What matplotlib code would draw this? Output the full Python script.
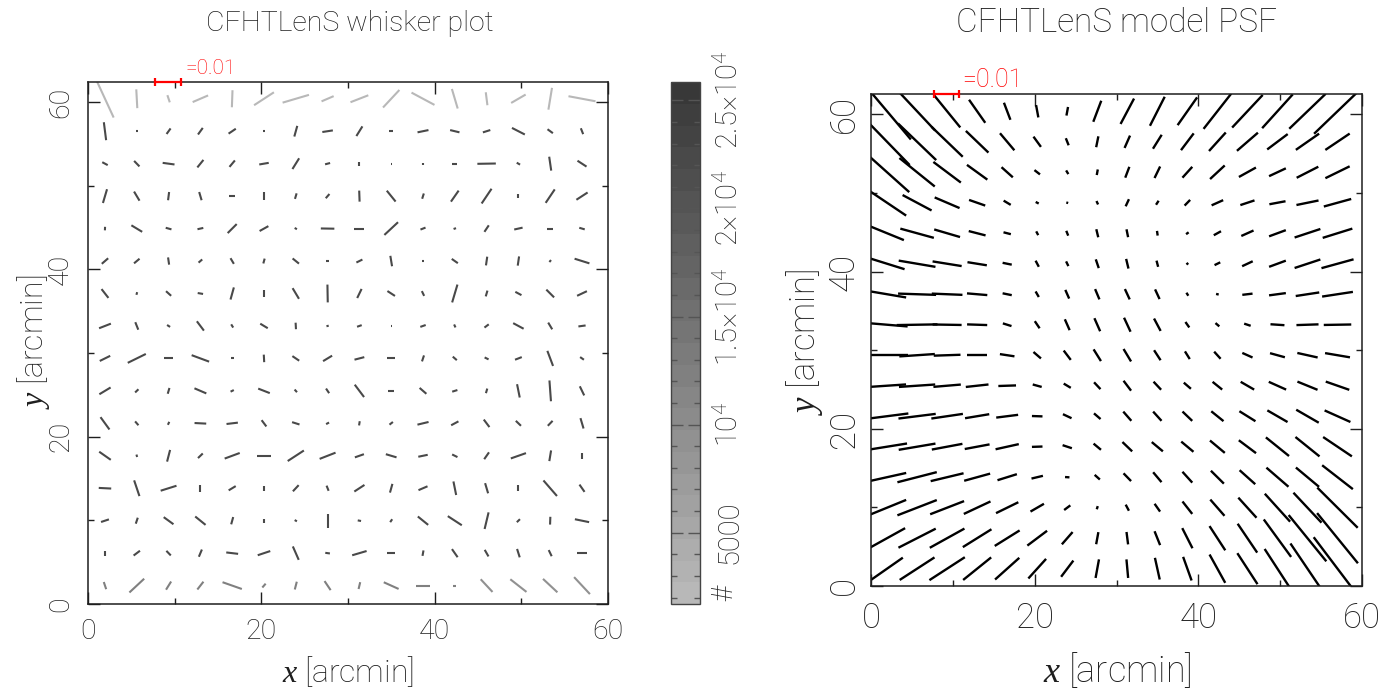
import numpy as np
import matplotlib.pyplot as plt
from matplotlib.collections import LineCollection
from matplotlib.colors import LinearSegmentedColormap, Normalize
from matplotlib.cm import ScalarMappable
from matplotlib.ticker import MultipleLocator, FixedLocator

plt.rcParams['font.family'] = ['Roboto', 'DejaVu Sans']
plt.rcParams['font.weight'] = 'light'
plt.rcParams['mathtext.fontset'] = 'custom'
plt.rcParams['mathtext.rm'] = 'Roboto:light'
plt.rcParams['mathtext.it'] = 'Liberation Serif:italic'

# centres of the 16x16 averaging cells [arcmin]
x_cells = np.linspace(1.96, 57.0, 16)
y_cells = np.linspace(2.2, 60.4, 16)

# star ellipticity per cell: |e| in units of 1e-3 and position angle [deg]
# rows go from the top of the field (y ~ 60) down to the bottom (y ~ 2)
star_e = [
    [16.4, 7.5, 3.0, 6.5, 6.8, 9.2, 10.6, 5.1, 7.4, 9.4, 10.1, 8.1, 5.2, 6.5, 8.8, 10.6],
    [7.2, 0.6, 2.7, 3.2, 3.4, 0.6, 4.4, 4.1, 4.5, 1.7, 4.3, 3.7, 3.0, 5.6, 2.6, 2.5],
    [2.4, 3.0, 4.6, 3.8, 3.3, 3.7, 5.0, 2.0, 1.6, 0.5, 0.9, 1.9, 7.1, 1.5, 5.6, 4.2],
    [5.7, 4.2, 3.3, 3.4, 2.2, 3.4, 2.3, 2.2, 4.4, 5.5, 2.2, 5.3, 7.0, 1.5, 6.4, 5.2],
    [1.4, 4.9, 2.3, 2.3, 5.0, 3.9, 1.0, 5.2, 3.8, 7.3, 2.1, 1.0, 3.1, 3.3, 2.1, 2.2],
    [3.3, 2.8, 2.9, 1.9, 2.6, 2.0, 3.2, 0.9, 2.6, 4.2, 0.6, 2.9, 3.5, 3.7, 1.0, 6.0],
    [4.4, 1.1, 2.7, 2.1, 5.0, 2.9, 4.9, 7.1, 4.0, 3.5, 2.1, 7.4, 2.4, 2.7, 4.3, 4.2],
    [4.9, 3.2, 1.4, 4.6, 1.5, 3.4, 2.6, 0.9, 1.9, 0.5, 2.2, 1.3, 2.1, 4.6, 3.1, 2.8],
    [4.5, 7.8, 3.4, 7.2, 1.2, 3.0, 3.2, 4.1, 3.9, 3.2, 2.5, 2.1, 1.7, 2.8, 6.4, 1.8],
    [5.1, 1.8, 2.4, 5.0, 1.4, 4.8, 1.4, 2.2, 6.1, 2.2, 3.5, 2.1, 1.9, 5.4, 8.3, 4.0],
    [6.0, 2.0, 1.3, 4.5, 4.4, 3.1, 3.0, 1.3, 1.7, 1.7, 4.4, 3.2, 3.7, 2.8, 2.7, 4.3],
    [5.5, 1.0, 4.8, 2.6, 6.2, 5.1, 7.5, 6.6, 3.7, 4.3, 3.7, 2.3, 3.3, 6.2, 4.3, 2.5],
    [4.8, 6.6, 6.4, 2.7, 3.2, 2.1, 3.3, 2.2, 4.7, 3.6, 3.8, 5.5, 4.2, 2.6, 8.1, 3.5],
    [3.2, 2.5, 4.7, 5.2, 3.0, 1.6, 1.0, 5.7, 1.3, 1.4, 5.2, 6.5, 6.8, 1.7, 3.1, 5.6],
    [1.9, 3.1, 2.5, 3.1, 4.6, 5.1, 5.8, 1.8, 5.8, 3.1, 2.2, 3.9, 3.0, 3.5, 2.7, 3.6],
    [3.0, 7.9, 3.8, 3.9, 7.9, 2.0, 3.2, 4.3, 2.8, 6.3, 5.5, 1.3, 6.8, 8.0, 7.7, 9.1],
]
star_ang = [
    [-66, -87, -72, 24, 88, 34, 17, 24, 22, 48, -29, -74, -83, 31, 81, -11],
    [-83, 0, 55, 55, 35, 0, 75, 9, 59, 0, 12, -14, 18, -28, -37, -69],
    [-29, -47, -8, 52, 51, 10, 59, 15, 90, 0, 90, 0, 1, -31, -82, -34],
    [74, -60, 83, -74, 0, 90, 74, 50, -88, -52, 73, 56, 57, 90, 57, 34],
    [88, -32, -16, 13, 46, 30, -30, -1, 0, 44, 22, 20, 57, 13, 0, -17],
    [42, 41, -82, 42, -60, 75, -40, 0, 27, -81, 0, -36, 82, 82, 50, -18],
    [-53, 75, -43, -10, 75, 90, -60, -89, 65, -34, -65, 74, 74, -29, -46, 26],
    [22, -69, -34, -54, -59, -32, -87, 16, 20, 0, 20, -66, 38, -29, -60, 8],
    [27, 27, 0, -21, 0, -87, -35, 32, 15, 0, 72, -42, -27, 22, -70, -36],
    [32, 45, 74, -24, 27, -22, -49, -57, -54, 0, -42, 18, 74, -79, -86, -65],
    [-55, -50, 66, -3, 7, -54, -18, 29, 81, 39, 14, 29, -54, -45, 47, -74],
    [-36, -74, 76, 45, 21, 0, 34, 22, 20, -17, 12, -27, 56, 20, 81, 90],
    [-3, -72, 18, 90, 32, 90, 48, -69, 34, 75, 24, -79, -74, 90, -50, -56],
    [19, 72, -37, -40, 75, 90, -30, 90, -11, 56, -40, -34, 77, 45, 88, -12],
    [90, 38, -47, 68, -7, 19, -67, -8, 17, 0, 80, -56, -61, -73, -65, 0],
    [-72, 44, 59, 53, -20, 50, 76, -57, 77, -25, 0, 0, -48, -39, -44, -48],
]
# number of stars per cell (sets the grey level of each whisker)
star_num = (
    [[2500] * 16]
    + [[22000] * 16 for _ in range(14)]
    + [[12000] * 12 + [9000] * 4]
)

# model PSF ellipticity on the same cells
psf_e = [
    [30.8, 22.0, 17.4, 11.8, 7.7, 5.3, 3.7, 9.5, 12.1, 13.7, 14.2, 18.7, 18.6, 19.0, 21.0, 27.0],
    [27.0, 22.0, 18.0, 13.0, 9.3, 5.3, 3.2, 4.7, 5.7, 6.9, 8.8, 10.4, 11.5, 10.6, 11.7, 12.1],
    [24.7, 18.8, 14.2, 10.4, 6.3, 2.9, 1.8, 2.4, 4.9, 5.4, 6.1, 8.3, 8.0, 7.6, 10.0, 11.1],
    [19.0, 13.5, 11.1, 7.0, 3.4, 1.4, 0.8, 1.6, 3.3, 2.0, 3.3, 5.2, 6.1, 6.7, 9.2, 11.6],
    [14.9, 14.2, 11.0, 7.1, 3.1, 1.8, 2.2, 3.5, 3.4, 2.0, 1.3, 3.4, 5.5, 7.3, 11.1, 12.7],
    [15.0, 15.2, 12.0, 8.0, 3.8, 2.9, 2.2, 3.9, 4.2, 2.7, 1.0, 2.6, 4.8, 7.3, 11.1, 13.6],
    [15.8, 15.5, 12.5, 8.3, 3.8, 2.7, 4.0, 4.7, 4.8, 4.5, 1.5, 1.1, 4.2, 6.9, 9.7, 12.7],
    [16.8, 16.6, 11.8, 8.2, 3.7, 3.6, 5.0, 6.0, 6.5, 5.9, 2.8, 2.1, 2.8, 5.7, 9.0, 11.2],
    [16.8, 14.5, 10.9, 7.9, 6.0, 4.1, 4.9, 5.8, 6.1, 5.0, 3.8, 4.0, 4.6, 6.3, 8.5, 10.3],
    [15.5, 14.8, 11.2, 9.3, 7.2, 3.8, 3.4, 3.9, 5.2, 4.6, 3.9, 5.1, 6.4, 7.8, 8.9, 10.2],
    [17.5, 15.3, 13.0, 10.0, 9.0, 4.3, 3.9, 3.6, 5.1, 5.2, 5.6, 6.5, 7.8, 9.6, 10.7, 11.6],
    [16.5, 15.2, 12.7, 10.3, 9.7, 4.3, 4.0, 4.0, 5.6, 6.0, 6.6, 8.0, 8.9, 12.3, 12.8, 14.3],
    [16.0, 16.6, 13.8, 11.0, 8.3, 4.8, 1.8, 2.9, 4.5, 5.4, 6.1, 7.6, 8.7, 12.1, 12.5, 16.1],
    [16.9, 17.3, 14.9, 12.1, 10.2, 6.4, 3.2, 1.4, 2.9, 4.0, 6.6, 9.0, 11.3, 15.7, 17.1, 23.7],
    [17.0, 17.2, 16.3, 13.9, 12.1, 10.2, 6.8, 5.2, 5.3, 6.3, 9.5, 12.1, 14.6, 19.4, 24.9, 27.0],
    [15.9, 17.1, 17.4, 14.9, 13.5, 11.0, 8.5, 8.0, 7.9, 9.4, 10.6, 13.6, 15.5, 19.7, 25.5, 33.0],
]
psf_ang = [
    [-51, -48, -52, -56, -70, -80, 80, 70, 63, 64, 56, 53, 48, 49, 45, 45],
    [-47, -45, -45, -45, -51, -55, -69, 79, 67, 59, 54, 49, 42, 38, 36, 35],
    [-43, -40, -38, -37, -43, -39, -60, 80, 70, 65, 49, 44, 30, 26, 28, 27],
    [-35, -29, -24, -20, -32, -29, -18, -66, 66, 58, 47, 25, 19, 11, 12, 16],
    [-23, -16, -17, -15, -15, -63, -69, -77, -79, -82, 37, 30, 25, 21, 19, 18],
    [-18, -10, -9.5, -9.5, -12, -63, -65, -72, -77, -76, 40, 27, 26, 21, 19, 16],
    [-10, -2, -2.4, -5, -12, -61, -67, -68, -66, -66, -59, -14, 7, 8, 9, 9],
    [-5, 1, -1, -2, -18, -57, -67, -67, -66, -63, -56, -42, -19, -4, 2, 1],
    [0, 4, 2, 0, -9, -42, -54, -59, -60, -58, -59, -49, -25, -16, -13, -10],
    [4, 4, 5, 6.5, 2, -16, -32, -48, -54, -48, -42, -40, -31, -25, -23, -20],
    [7.6, 7.4, 8.7, 9.8, 7.5, -2, -26, -42, -50, -49, -45, -40, -33, -31, -31, -25],
    [9.5, 10, 11, 11, 13, 2, -19, -41, -45, -41, -41, -41, -38, -40, -40, -35],
    [13, 15, 14, 16, 18, 14, -4, -43, -47, -51, -49, -46, -43, -42, -41, -39],
    [23, 22, 22, 26, 27, 31, 38, 73, -63, -56, -53, -50, -49, -49, -48, -46],
    [30, 28, 30, 33, 33, 38, 50, 80, -83, -69, -64, -58, -57, -55, -52, -52],
    [36, 34, 34, 40, 43, 49, 54, 80, -85, -78, -71, -62, -58, -58, -57, -54],
]

cbar_ticks = [5000, 10000, 15000, 20000, 25000]
cbar_labels = ['5000', '$10^4$', '1.5$\\times$$10^4$', '2$\\times$$10^4$', '2.5$\\times$$10^4$']
num_range = (1700, 25850)

arcmin_per_e = 300.0   # whisker scale: e = 0.01 is drawn 3 arcmin long
e_ref = 0.01
ink = '#1e1e1e'


def whisker_segments(e, ang):
    e = np.flipud(np.asarray(e, float)) * 1e-3
    a = np.radians(np.flipud(np.asarray(ang, float)))
    X, Y = np.meshgrid(x_cells, y_cells)
    h = 0.5 * e * arcmin_per_e
    dx, dy = h * np.cos(a), h * np.sin(a)
    p0 = np.stack([X - dx, Y - dy], axis=-1)
    p1 = np.stack([X + dx, Y + dy], axis=-1)
    return np.stack([p0, p1], axis=-2).reshape(-1, 2, 2)


def style_axes(ax, ytop, size, xpad, ypad):
    ax.set_xlim(0, 60)
    ax.set_ylim(0, ytop)
    for axis in (ax.xaxis, ax.yaxis):
        axis.set_major_locator(MultipleLocator(20))
        axis.set_minor_locator(MultipleLocator(10))
    ax.tick_params(which='both', direction='in', top=True, right=True,
                   width=1.0, color=ink, labelcolor=ink)
    ax.tick_params(which='major', length=8.5)
    ax.tick_params(which='minor', length=4.3)
    ax.tick_params(axis='x', pad=xpad, labelsize=size)
    ax.tick_params(axis='y', pad=ypad, labelsize=size, labelrotation=90)
    for lab in ax.get_yticklabels():
        lab.set_va('center')
    for sp in ax.spines.values():
        sp.set_linewidth(1.1)
        sp.set_color(ink)


def scale_bar(ax, ytop, dy_text, size):
    x0 = 7.7
    x1 = x0 + e_ref * arcmin_per_e
    ax.plot([x0, x1], [ytop, ytop], color='red', lw=1.6, clip_on=False,
            marker='|', markersize=6, markeredgewidth=1.6, zorder=5)
    ax.annotate('=0.01', xy=(x1 + 0.5, ytop), xytext=(0, dy_text),
                textcoords='offset points', color='red', fontsize=size,
                ha='left', va='center', annotation_clip=False)


fig = plt.figure(figsize=(13.99, 6.91), dpi=100)

# star whiskers, grey level from the number of stars per cell
grey = LinearSegmentedColormap.from_list('greys', [(0.72, 0.72, 0.72), (0.22, 0.22, 0.22)], N=24)
norm = Normalize(*num_range)

ax1 = fig.add_axes([0.0629, 0.1259, 0.3717, 0.7554])
lc1 = LineCollection(whisker_segments(star_e, star_ang),
                     colors=grey(norm(np.flipud(np.asarray(star_num, float)).ravel())),
                     linewidths=1.5, capstyle='butt')
ax1.add_collection(lc1)
style_axes(ax1, 62.4, 20.5, 10, 10)
scale_bar(ax1, 62.4, 10, 15)

cax = fig.add_axes([0.4796, 0.1259, 0.0207, 0.7554])
cb = fig.colorbar(ScalarMappable(norm=norm, cmap=grey), cax=cax)
cb.outline.set_linewidth(1.0)
cb.outline.set_edgecolor('#444444')
cb.set_ticks(cbar_ticks)
cb.set_ticklabels(cbar_labels)
cax.yaxis.set_minor_locator(FixedLocator(np.arange(2000, 25850, 1000)))
cax.tick_params(which='both', direction='in', left=True, right=True,
                color='#555555', width=1.0)
cax.tick_params(which='major', length=8.5, pad=11, labelsize=21, labelrotation=90,
                labelcolor=ink)
cax.tick_params(which='minor', length=4.3)
for lab in cax.get_yticklabels():
    lab.set_va('center')
fig.text(0.5175, 0.142, '#', rotation=90, fontsize=21, ha='center', va='center',
         color=ink)

# model PSF whiskers
ax2 = fig.add_axes([0.6226, 0.152, 0.3510, 0.7120])
lc2 = LineCollection(whisker_segments(psf_e, psf_ang), colors='black',
                     linewidths=1.7, capstyle='butt')
ax2.add_collection(lc2)
style_axes(ax2, 62.6, 25, 11, 7.5)
scale_bar(ax2, 62.6, 10, 18)

# titles and axis labels
fig.text(0.2497, 0.966, 'CFHTLenS whisker plot', fontsize=20.5, ha='center', va='center',
         color=ink)
fig.text(0.7984, 0.966, 'CFHTLenS model PSF', fontsize=24, ha='center', va='center',
         color=ink)
fig.text(0.2487, 0.028, '$x$ [arcmin]', fontsize=23, ha='center', va='center', color=ink)
fig.text(0.7984, 0.030, '$x$ [arcmin]', fontsize=26, ha='center', va='center', color=ink)
fig.text(0.024, 0.505, '$y$ [arcmin]', fontsize=23, rotation=90, ha='center',
         va='center', color=ink)
fig.text(0.575, 0.505, '$y$ [arcmin]', fontsize=25, rotation=90, ha='center',
         va='center', color=ink)

fig.savefig('out.png', dpi=100)
